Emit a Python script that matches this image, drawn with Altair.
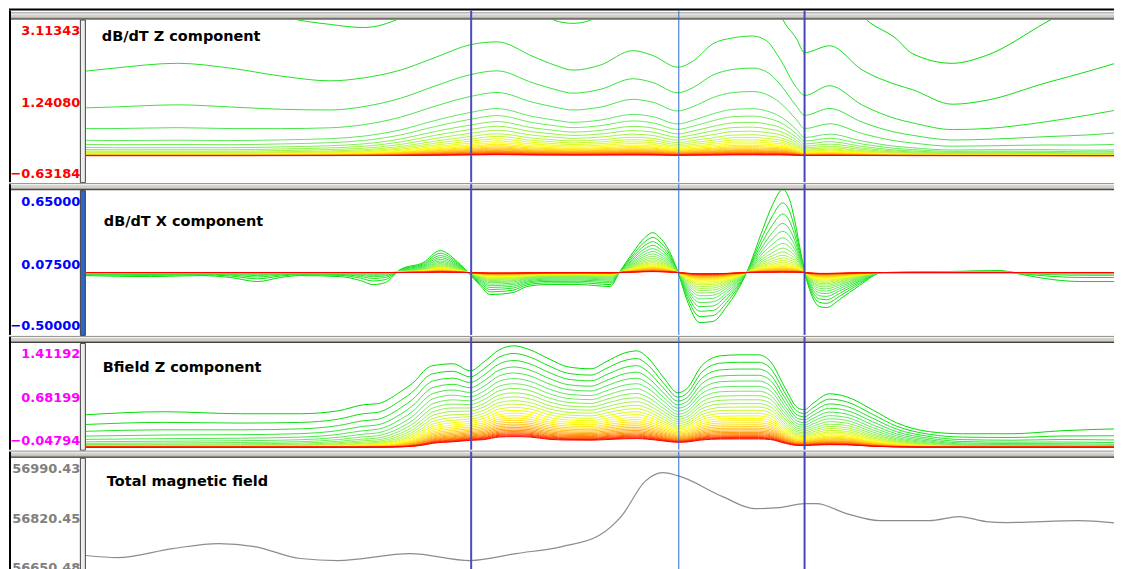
import altair as alt
import pandas as pd

# ---------------- data ----------------
TITLES = ["dB/dT Z component", "dB/dT X component", "Bfield Z component", "Total magnetic field"]

Z_TICKS = [-0.63184, 1.24080, 3.11343]
X_TICKS = [-0.50000, 0.07500, 0.65000]
B_TICKS = [-0.04794, 0.68199, 1.41192]
T_TICKS = [56650.48, 56820.45, 56990.43]

# survey markers (distance along line)
MARKER_X = [386, 594, 720]
MARKER_COLOR = ["#4c4cc0", "#2f6ad8", "#4646ba"]
MARKER_WIDTH = [2, 1, 2]

N_CH = 30

# --- dB/dT Z component: channel 0, channel 1, channel 2 profiles and decay ratio per station
Z_DIST = [0, 28, 92, 145, 195, 245, 278, 315, 350, 385, 412, 448, 470, 488, 515, 548, 568, 593, 608, 628,
          648, 668, 682, 695, 712, 720, 745, 778, 812, 828, 868, 902, 962, 1005, 1038]
Z_CH0 = [6.3, 6.5, 7.0, 6.6, 5.6, 5.0, 4.8, 5.2, 6.0, 6.5, 6.6, 5.6, 5.0, 4.8, 5.0, 6.0, 5.9, 5.5, 5.8, 6.5,
         7.0, 7.1, 6.8, 5.5, 4.6, 4.2, 4.4, 3.2, 2.67, 2.334, 2.111, 2.29, 3.05, 3.6, 4.2]
Z_CH1 = [3.6, 3.7, 3.9, 3.7, 3.2, 3.0, 2.93, 3.15, 3.7, 4.1, 4.2, 3.5, 3.09, 3.025, 3.2, 3.9, 3.8, 3.6, 3.8, 4.3,
         4.6, 4.7, 4.5, 3.3, 2.67, 2.356, 2.512, 1.955, 1.621, 1.509, 1.175, 1.264, 1.665, 1.933, 2.156]
Z_CH2 = [1.933, 2.000, 2.111, 2.000, 1.821, 1.710, 1.777, 1.955, 2.245, 2.535, 2.602, 2.267, 2.067, 1.955, 2.067,
         2.401, 2.289, 2.022, 2.156, 2.557, 2.691, 2.735, 2.624, 2.223, 1.554, 1.375, 1.598, 1.153, 0.840, 0.751,
         0.595, 0.618, 0.774, 0.930, 1.063]
Z_RATIO = [0.565, 0.556, 0.55, 0.556, 0.582, 0.61, 0.63, 0.67, 0.71, 0.73, 0.745, 0.733, 0.732, 0.73, 0.732,
           0.732, 0.73, 0.71, 0.72, 0.72, 0.732, 0.732, 0.73, 0.74, 0.725, 0.67, 0.675, 0.66, 0.63, 0.62,
           0.6, 0.6, 0.56, 0.51, 0.5]
Z_STEPS = [0, 1, 2, 3, 4, 5, 5.55, 6.1, 6.6, 7.1, 7.6, 8.05, 8.5, 8.95, 9.4, 9.85, 10.3, 10.75, 11.2, 11.65,
           12.1, 12.6, 13.1, 13.6, 14.2, 14.8, 15.5, 16.3, 17.2, 18.3]

# --- dB/dT X component: earliest channel profile and decay ratio per station
X_DIST = [0, 65, 115, 145, 172, 195, 215, 255, 275, 288, 300, 315, 338, 355, 372, 385, 395, 405, 428, 442,
          462, 495, 525, 535, 548, 560, 568, 575, 582, 593, 602, 615, 628, 642, 662, 678, 688, 698, 705, 710,
          717, 720, 725, 735, 742, 755, 775, 798, 865, 915, 938, 968, 998, 1038]
X_CH0 = [-0.024, -0.032, -0.024, -0.039, -0.071, -0.039, -0.024, -0.032, -0.063, -0.095,
         -0.079, 0.024, 0.079, 0.173, 0.087, -0.016, -0.102, -0.173, -0.158, -0.110,
         -0.095, -0.095, -0.110, 0.008, 0.158, 0.276, 0.315, 0.276, 0.205, 0.008,
         -0.213, -0.394, -0.386, -0.268, 0.0, 0.339, 0.536, 0.654, 0.575, 0.417,
         0.126, 0.008, -0.134, -0.268, -0.276, -0.213, -0.102, 0.0, 0.008, 0.016,
         -0.016, -0.055, -0.071, -0.071]
X_RATIO = [0.7, 0.7, 0.7, 0.7, 0.7, 0.7, 0.7, 0.7, 0.7, 0.7, 0.7,
           0.85, 0.87, 0.88, 0.88, 0.88, 0.88, 0.88, 0.88, 0.88, 0.86, 0.85, 0.86, 0.88, 0.88, 0.88, 0.88,
           0.88, 0.88, 0.88, 0.88, 0.88, 0.88, 0.88, 0.88, 0.85, 0.84, 0.84, 0.84, 0.85, 0.87, 0.88, 0.88,
           0.88, 0.88, 0.88, 0.87, 0.85,
           0.75, 0.75, 0.6, 0.55, 0.55, 0.55]

# --- Bfield Z component: earliest channel profile and decay ratio per station
B_DIST = [0, 78, 155, 215, 253, 278, 292, 315, 330, 341, 347, 368, 385, 399, 414, 429, 445, 464, 483, 506,
          521, 540, 552, 563, 579, 593, 602, 617, 636, 655, 674, 686, 701, 713, 720, 728, 745, 762, 788, 812,
          845, 878, 928, 978, 1038]
B_CH0 = [0.439, 0.480, 0.453, 0.453, 0.493, 0.574, 0.588, 0.750, 0.899, 1.061,
         1.102, 1.129, 1.034, 1.156, 1.318, 1.372, 1.318, 1.196, 1.088, 1.061,
         1.156, 1.277, 1.304, 1.210, 0.939, 0.737, 0.791, 1.102, 1.237, 1.250,
         1.250, 1.156, 0.791, 0.534, 0.507, 0.588, 0.723, 0.683, 0.507, 0.331,
         0.210, 0.182, 0.182, 0.223, 0.250]
B_RATIO = [0.7, 0.7, 0.72, 0.74, 0.77, 0.79, 0.8, 0.84, 0.87, 0.89,
           0.9, 0.91, 0.92, 0.92, 0.925, 0.925, 0.925, 0.92, 0.92, 0.92,
           0.92, 0.92, 0.92, 0.92, 0.92, 0.92, 0.92, 0.92, 0.92, 0.92,
           0.92, 0.92, 0.91, 0.9, 0.9, 0.9, 0.9, 0.9, 0.88, 0.86,
           0.83, 0.75, 0.72, 0.68, 0.62]

# --- Total magnetic field
T_DIST = [0, 32, 87, 133, 169, 215, 252, 325, 385, 431, 477, 514, 537, 560, 578, 593, 638, 670, 695, 720,
          732, 762, 795, 845, 875, 902, 922, 995, 1038]
T_VAL = [56712.8, 56707.1, 56732.6, 56746.8, 56738.3, 56704.3, 56698.6, 56718.4, 56698.6, 56718.4,
         56738.3, 56769.4, 56826.1, 56922.4, 56947.9, 56939.4, 56879.9, 56845.9, 56848.8, 56860.1,
         56860.1, 56831.8, 56811.9, 56811.9, 56823.3, 56809.1, 56806.3, 56811.9, 56803.4]

CH_COLOR_STOPS = [0, 5, 10, 14, 19, 24, 29]
CH_COLORS = ["#00dc00", "#5ee85e", "#b4f53c", "#ffff00", "#ffc020", "#ff8000", "#ff0000"]

# ---------------- build tables ----------------
def decay_table(dist, profiles, ref_vals, ratio, ref_ch, steps):
    rows = []
    for k in range(N_CH):
        if k in profiles:
            vals = profiles[k]
        else:
            vals = [v * r ** (steps[k] - steps[ref_ch]) for v, r in zip(ref_vals, ratio)]
        for d, v in zip(dist, vals):
            rows.append({"Distance": d, "Value": v, "Channel": k})
    return pd.DataFrame(rows)

df_z = decay_table(Z_DIST, {0: Z_CH0, 1: Z_CH1}, Z_CH2, Z_RATIO, 2, Z_STEPS)
df_x = decay_table(X_DIST, {}, X_CH0, X_RATIO, 0, list(range(N_CH)))
df_b = decay_table(B_DIST, {}, B_CH0, B_RATIO, 0, list(range(N_CH)))
df_t = pd.DataFrame({"Distance": T_DIST, "Value": T_VAL})
df_m = pd.DataFrame({"Distance": MARKER_X, "Color": MARKER_COLOR, "Width": MARKER_WIDTH})

W = 1030
LEFT = 77
FONT = "DejaVu Sans"
one = pd.DataFrame({"k": [0]})


def panel(df, ticks, fmt, label_color, title, tx, ty, h, bar_fill, top=False, single=False):
    lo, mid, hi = ticks
    xsc = alt.Scale(domain=[0, W], nice=False, zero=False)
    ysc = alt.Scale(domain=[lo, hi], nice=False, zero=False)
    yax = alt.Axis(values=[lo, mid, hi], format=fmt, labelFlush=True, labelFlushOffset=-4, labelOffset=1,
                   ticks=False, domain=False, grid=False, labelColor=label_color, labelFont=FONT,
                   labelFontWeight="bold", labelFontSize=13, labelPadding=6, title=None)
    v_top = -9 if top else -6
    layers = [
        alt.Chart(one).mark_rect(color="#d4d0c8").encode(
            x=alt.value(-LEFT), x2=alt.value(W), y=alt.value(-7), y2=alt.value(0)),
        alt.Chart(one).mark_rule(color="#8a8a8a", strokeWidth=1).encode(
            x=alt.value(-LEFT), x2=alt.value(W), y=alt.value(-6.5)),
        alt.Chart(one).mark_rule(color="#f6f6f6", strokeWidth=1).encode(
            x=alt.value(-LEFT), x2=alt.value(W), y=alt.value(-5.5)),
        alt.Chart(one).mark_rule(color="#9a9a9a", strokeWidth=1).encode(
            x=alt.value(-LEFT), x2=alt.value(W), y=alt.value(-1.5)),
        alt.Chart(one).mark_rule(color="#303030", strokeWidth=1).encode(
            x=alt.value(-LEFT), x2=alt.value(W), y=alt.value(-0.5)),
    ]
    if top:
        layers.append(alt.Chart(one).mark_rule(color="black", strokeWidth=2).encode(
            x=alt.value(-LEFT), x2=alt.value(W), y=alt.value(-10)))
    layers += [
        alt.Chart(one).mark_rule(color="black", strokeWidth=2).encode(
            x=alt.value(-LEFT + 1), y=alt.value(v_top), y2=alt.value(h - 1)),
        alt.Chart(one).mark_rect(fill=bar_fill, stroke="#404040", strokeWidth=1).encode(
            x=alt.value(-5.5), x2=alt.value(-0.5), y=alt.value(0.5), y2=alt.value(h - 0.5)),
    ]
    if single:
        lines = alt.Chart(df).mark_line(color="#8c8c8c", strokeWidth=1.2, clip=True,
                                        interpolate="monotone").encode(
            x=alt.X("Distance:Q", scale=xsc, axis=None),
            y=alt.Y("Value:Q", scale=ysc, axis=yax))
    else:
        lines = alt.Chart(df).mark_line(strokeWidth=1, clip=True, interpolate="monotone").encode(
            x=alt.X("Distance:Q", scale=xsc, axis=None),
            y=alt.Y("Value:Q", scale=ysc, axis=yax),
            color=alt.Color("Channel:Q", legend=None,
                            scale=alt.Scale(domain=CH_COLOR_STOPS, range=CH_COLORS, interpolate="rgb")),
            detail="Channel:O")
    layers.append(lines)
    layers.append(alt.Chart(pd.DataFrame({"Title": [title]})).mark_text(
        align="left", baseline="middle", font=FONT, fontWeight="bold", fontSize=14.5, color="black").encode(
        x=alt.value(tx), y=alt.value(ty), text="Title:N"))
    layers.append(alt.Chart(df_m).mark_rule().encode(
        x=alt.X("Distance:Q", scale=xsc, axis=None),
        y=alt.value(v_top), y2=alt.value(h - 1),
        color=alt.Color("Color:N", scale=None),
        strokeWidth=alt.StrokeWidth("Width:Q", scale=None)))
    return alt.layer(*layers).properties(width=W, height=h)


p1 = panel(df_z, Z_TICKS, ".5f", "#ff0000", TITLES[0], 16, 18, 164, "#eeeeee", top=True)
p2 = panel(df_x, X_TICKS, ".5f", "#0000ff", TITLES[1], 18, 32, 146, "#3564c0")
p3 = panel(df_b, B_TICKS, ".5f", "#ff00ff", TITLES[2], 17, 25, 108, "#eeeeee")
p4 = panel(df_t, T_TICKS, ".2f", "#808080", TITLES[3], 21, 24, 120, "#eeeeee", single=True)

chart = alt.vconcat(p1, p2, p3, p4, spacing=0).properties(padding=0).configure_view(stroke=None)
chart.save("out.html", embed_options={"renderer": "svg", "actions": False})
